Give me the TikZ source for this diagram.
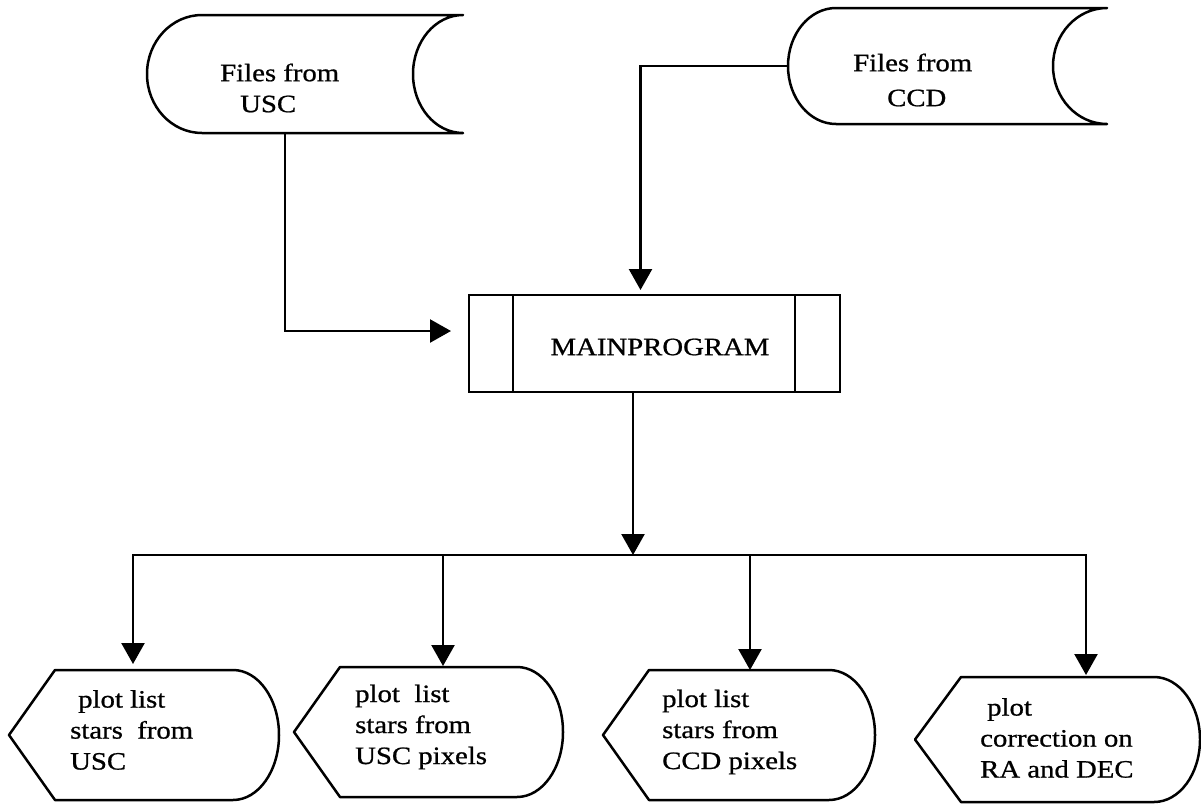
\documentclass[tikz,border=0pt]{standalone}
\usepackage{fontspec}
\setmainfont{Liberation Serif}[FakeStretch=1.15,FakeBold=0.8]
\usetikzlibrary{arrows.meta,calc}

% stored-data outline: name, left bulge depth, right notch depth, half height
\newcommand\storedoutline[4]{%
  \draw[outline] (#1.north east) -- ($(#1.north west)+(#2,0)$)
    arc[start angle=90,end angle=270,x radius=#2pt,y radius=#4pt]
    -- (#1.south east)
    arc[start angle=270,end angle=90,x radius=#3pt,y radius=#4pt] -- cycle;}
% display outline: name, half height
\newcommand\displayoutline[2]{%
  \draw[outline] (#1.west) -- ($(#1.north west)+(46,0)$)
    -- ($(#1.north east)+(-46,0)$)
    arc[start angle=90,end angle=-90,x radius=46pt,y radius=#2pt]
    -- ($(#1.south west)+(46,0)$) -- cycle;}

\begin{document}
\begin{tikzpicture}[x=1pt,y=-1pt,
  line/.style={line width=2.4pt},
  arr/.style={line width=2.4pt,-{Triangle[length=21pt,width=23pt]}},
  outline/.style={line width=2.5pt,line join=round},
  frame/.style={rectangle,inner sep=0pt,outer sep=0pt},
  txt/.style={font=\fontsize{25}{31}\selectfont,align=left,inner sep=0pt},
]
\useasboundingbox (0,0) rectangle (1201,806);

% input files
\node[frame,minimum width=316pt,minimum height=118pt] (usc) at (305,74) {};
\storedoutline{usc}{55}{50}{59}
\node[txt,anchor=west] (usct) at (220,88) {Files from\\\hspace*{20pt}USC};

\node[frame,minimum width=319pt,minimum height=116pt] (ccd) at (947.5,66) {};
\storedoutline{ccd}{48}{54}{58}
\node[txt,anchor=west,font=\fontsize{25}{35}\selectfont] (ccdt) at (853,80) {Files from\\\hspace*{34pt}CCD};

% main program (predefined process)
\node[frame,draw,line width=2.4pt,minimum width=371pt,minimum height=97pt] (main) at (654.5,343.5) {};
\draw[line] ($(main.north west)+(44,0)$) -- ($(main.south west)+(44,0)$);
\draw[line] ($(main.north east)+(-45,0)$) -- ($(main.south east)+(-45,0)$);
\node[txt] (maint) at (660,347) {MAINPROGRAM};

% outputs
\node[frame,minimum width=270pt,minimum height=130pt] (p1) at (144,735) {};
\displayoutline{p1}{65}
\node[txt,anchor=west] (p1t) at (70,730) {\hspace*{8pt}plot list\\stars\ \ from\\USC};

\node[frame,minimum width=269pt,minimum height=130pt] (p2) at (428.5,732) {};
\displayoutline{p2}{65}
\node[txt,anchor=west] (p2t) at (355,727) {plot\ \ list\\stars from\\USC pixels};

\node[frame,minimum width=272pt,minimum height=130pt] (p3) at (739,735) {};
\displayoutline{p3}{65}
\node[txt,anchor=west] (p3t) at (662,732) {plot list\\stars from\\CCD pixels};

\node[frame,minimum width=285pt,minimum height=125pt] (p4) at (1057.5,739.5) {};
\displayoutline{p4}{62.5}
\node[txt,anchor=west] (p4t) at (980,738) {\hspace*{7pt}plot\\correction on\\RA and DEC};

% connectors
\draw[arr] ($(usc.south)+(-20,0)$) |- ($(main.west)+(-18,-12.5)$);
\draw[arr] (ccd.west) -| ($(main.north)+(-14,-5)$);

\coordinate (jn) at (633,555);
\draw[arr] (jn |- main.south) -- (jn);

\coordinate (b1) at ($(p1.north)+(-11,-6)$);
\coordinate (b2) at ($(p2.north)+(14.5,-1)$);
\coordinate (b3) at ($(p3.north)+(11,0)$);
\coordinate (b4) at ($(p4.north)+(28.5,-2)$);
\draw[arr] (jn) -| (b1);
\draw[arr] (jn) -| (b4);
\draw[arr] (b2 |- jn) -- (b2);
\draw[arr] (b3 |- jn) -- (b3);
\end{tikzpicture}
\end{document}
